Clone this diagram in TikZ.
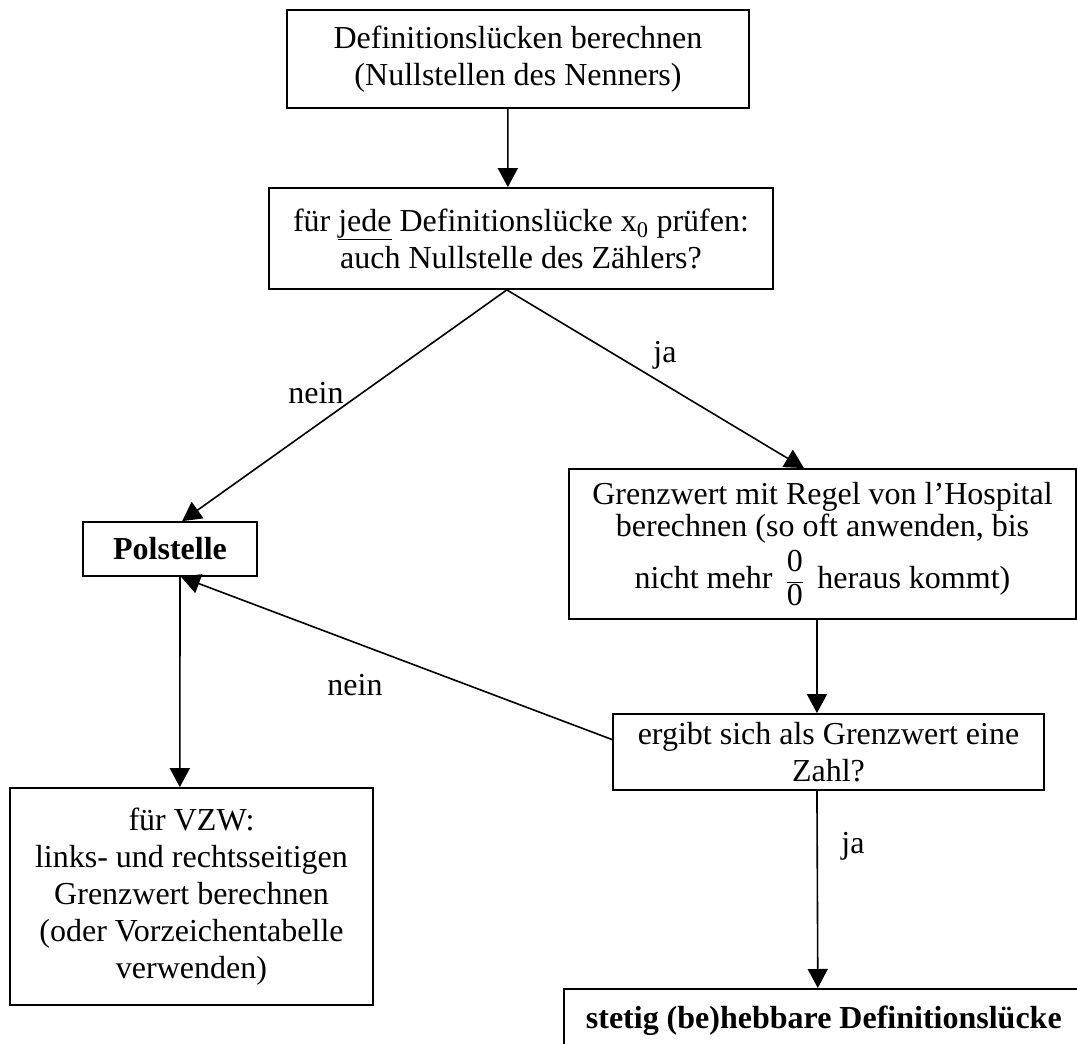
\documentclass[tikz,border=0pt]{standalone}
\usepackage{fontspec}
\setmainfont{Liberation Serif}
\usetikzlibrary{arrows.meta,calc}
\begin{document}
\begin{tikzpicture}[x=1pt,y=-1pt,
  box/.style={draw, line width=1.8pt, inner sep=0pt, align=center, font=\fontsize{32}{37}\selectfont},
  arr/.style={line width=1.6pt, -{Triangle[length=19pt,width=20pt]}},
  lbl/.style={font=\fontsize{32}{37}\selectfont, inner sep=0pt, anchor=base}]
\useasboundingbox (0,0) rectangle (1077,1044);
\node[box, minimum width=462pt, minimum height=98pt] (b1) at (518,59) {Definitionslücken berechnen\\(Nullstellen des Nenners)};
\node[box, minimum width=504pt, minimum height=101pt] (b2) at (521,238.5) {für \underline{jede} Definitionslücke x\textsubscript{0} prüfen:\\auch Nullstelle des Zählers?};
\node[box, minimum width=174pt, minimum height=54pt] (pol) at (170,549) {\textbf{Polstelle}};
\node[box, minimum width=507pt, minimum height=150pt] (hos) at (822.5,544) {Grenzwert mit Regel von l’Hospital\\[-5pt]berechnen (so oft anwenden, bis\\[6pt]nicht mehr \,$\displaystyle\frac{\mbox{0}}{\mbox{0}}$\, heraus kommt)};
\node[box, minimum width=431pt, minimum height=76pt] (erg) at (828.5,752) {ergibt sich als Grenzwert eine\\Zahl?};
\node[box, minimum width=363pt, minimum height=217pt] (vzw) at (191.5,896.5) {für VZW:\\links- und rechtsseitigen\\Grenzwert berechnen\\(oder Vorzeichentabelle\\verwenden)};
\node[box, anchor=north west, minimum width=560pt, minimum height=64pt] (res) at (563,988) {\makebox[560pt][l]{\hspace*{22pt}\textbf{stetig (be)hebbare Definitionslücke}}};
% connectors
\coordinate (apex) at ($(b2.south west)!0.472!(b2.south east)$);
\draw[arr] ($(b1.south west)!0.478!(b1.south east)$) -- ($(b2.north west)!0.474!(b2.north east)$);
\draw[arr] (apex) -- ($(pol.north west)!0.569!(pol.north east)$);
\draw[arr] (apex) -- ($(hos.north west)!0.4635!(hos.north east)$);
\draw[arr] ($(hos.south west)!0.4892!(hos.south east)$) -- ($(erg.north west)!0.4733!(erg.north east)$);
\draw[arr] ($(erg.north west)!0.34!(erg.south west)$) -- ($(pol.south west)!0.563!(pol.south east)$);
\draw[arr] ($(pol.south west)!0.557!(pol.south east)$) -- ($(vzw.north west)!0.468!(vzw.north east)$);
\draw[arr] ($(erg.south west)!0.4733!(erg.south east)$) -- ($(res.north west)!0.4536!(res.north east)$);
% labels
\node[lbl] (l1) at (316,403) {nein};
\node[lbl] (l2) at (665,362) {ja};
\node[lbl] (l3) at (355,695) {nein};
\node[lbl] (l4) at (853,853) {ja};
\end{tikzpicture}
\end{document}
